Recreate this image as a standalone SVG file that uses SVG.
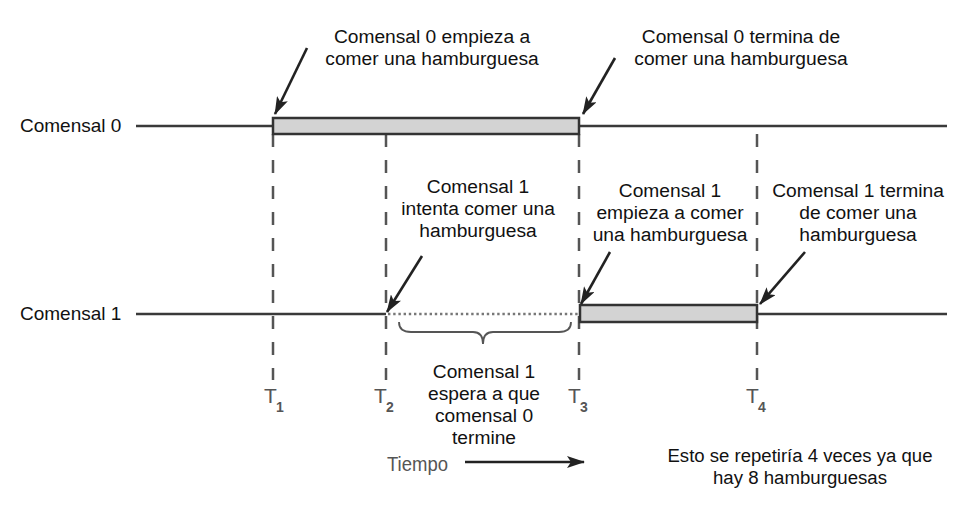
<svg xmlns="http://www.w3.org/2000/svg" width="958" height="530" viewBox="0 0 958 530">
<defs>
<marker id="ah2" markerWidth="18" markerHeight="12" refX="17" refY="6" orient="auto" markerUnits="userSpaceOnUse" viewBox="0 0 18 12">
<path d="M0,0 L18,6 L0,12 L4,6 Z" fill="#222"/>
</marker>
<style>
.t{font-family:"Liberation Sans",Arial,sans-serif;font-size:19.2px;fill:#111;text-anchor:middle}
.lab{font-family:"Liberation Sans",Arial,sans-serif;font-size:19px;fill:#111}
.tl{font-family:"Liberation Sans",Arial,sans-serif;font-size:21px;fill:#555}
.ts{font-family:"Liberation Sans",Arial,sans-serif;font-size:14px;fill:#555;font-weight:bold}
.tl2{stroke:#3a3a3a;stroke-width:2.5;fill:none}
.bar{fill:#d3d3d3;stroke:#333;stroke-width:2.5}
.dash{stroke:#555;stroke-width:2.5;stroke-dasharray:13 13;fill:none}
.arr{stroke:#222;stroke-width:2.6;fill:none;marker-end:url(#ah2)}
</style>
</defs>
<rect width="958" height="530" fill="#fff"/>

<g id="time-guides">
<line class="dash" x1="273" y1="134" x2="273" y2="380"/>
<line class="dash" x1="386" y1="134" x2="386" y2="380"/>
<line class="dash" x1="579" y1="134" x2="579" y2="380"/>
<line class="dash" x1="757" y1="134" x2="757" y2="380"/>
</g>

<g id="comensal0">
<text class="lab" x="20" y="132">Comensal 0</text>
<line class="tl2" x1="136" y1="126" x2="947" y2="126"/>
<rect class="bar" x="273" y="118" width="306" height="16"/>
</g>

<g id="comensal1">
<text class="lab" x="20" y="320">Comensal 1</text>
<line class="tl2" x1="136" y1="314" x2="386" y2="314"/>
<line x1="388" y1="314" x2="579" y2="314" stroke="#777" stroke-width="2.6" stroke-dasharray="2.4 2.8"/>
<line class="tl2" x1="757" y1="314" x2="947" y2="314"/>
<rect class="bar" x="580" y="305" width="177" height="17"/>
</g>

<g id="brace">
<path d="M399,322 Q399,332 411,332 L473,332 Q483,332 483,344 Q483,332 493,332 L559,332 Q571,332 571,322" stroke="#555" stroke-width="1.8" fill="none"/>
</g>

<g id="labels-T">
<text class="tl" x="264" y="403">T</text><text class="ts" x="276" y="412">1</text>
<text class="tl" x="374" y="403">T</text><text class="ts" x="386" y="412">2</text>
<text class="tl" x="568" y="403">T</text><text class="ts" x="580" y="412">3</text>
<text class="tl" x="746" y="403">T</text><text class="ts" x="758" y="412">4</text>
</g>

<g id="note-c0-start">
<text class="t" x="432" y="43">Comensal 0 empieza a</text>
<text class="t" x="432" y="65">comer una hamburguesa</text>
</g>
<g id="note-c0-end">
<text class="t" x="741" y="43">Comensal 0 termina de</text>
<text class="t" x="741" y="65">comer una hamburguesa</text>
</g>
<g id="note-c1-try">
<text class="t" x="478" y="193">Comensal 1</text>
<text class="t" x="478" y="215">intenta comer una</text>
<text class="t" x="478" y="237">hamburguesa</text>
</g>
<g id="note-c1-start">
<text class="t" x="670" y="197">Comensal 1</text>
<text class="t" x="670" y="219">empieza a comer</text>
<text class="t" x="670" y="241">una hamburguesa</text>
</g>
<g id="note-c1-end">
<text class="t" x="858" y="197">Comensal 1 termina</text>
<text class="t" x="858" y="219">de comer una</text>
<text class="t" x="858" y="241">hamburguesa</text>
</g>
<g id="note-wait">
<text class="t" x="484" y="378">Comensal 1</text>
<text class="t" x="484" y="400">espera a que</text>
<text class="t" x="484" y="422">comensal 0</text>
<text class="t" x="484" y="444">termine</text>
</g>
<g id="note-repeat">
<text class="t" x="800" y="462" textLength="265" lengthAdjust="spacingAndGlyphs">Esto se repetiría 4 veces ya que</text>
<text class="t" x="800" y="484" textLength="174" lengthAdjust="spacingAndGlyphs">hay 8 hamburguesas</text>
</g>
<g id="tiempo">
<text class="tl" x="387" y="471" textLength="61" lengthAdjust="spacingAndGlyphs">Tiempo</text>
</g>

<g id="connectors">
<line class="arr" x1="307" y1="48" x2="275" y2="114"/>
<line class="arr" x1="615" y1="58" x2="583" y2="114"/>
<line class="arr" x1="422" y1="256" x2="387" y2="312"/>
<line class="arr" x1="610" y1="252" x2="581" y2="304"/>
<line class="arr" x1="805" y1="252" x2="760" y2="304"/>
<line class="arr" x1="465" y1="462" x2="584" y2="462"/>
</g>
</svg>
